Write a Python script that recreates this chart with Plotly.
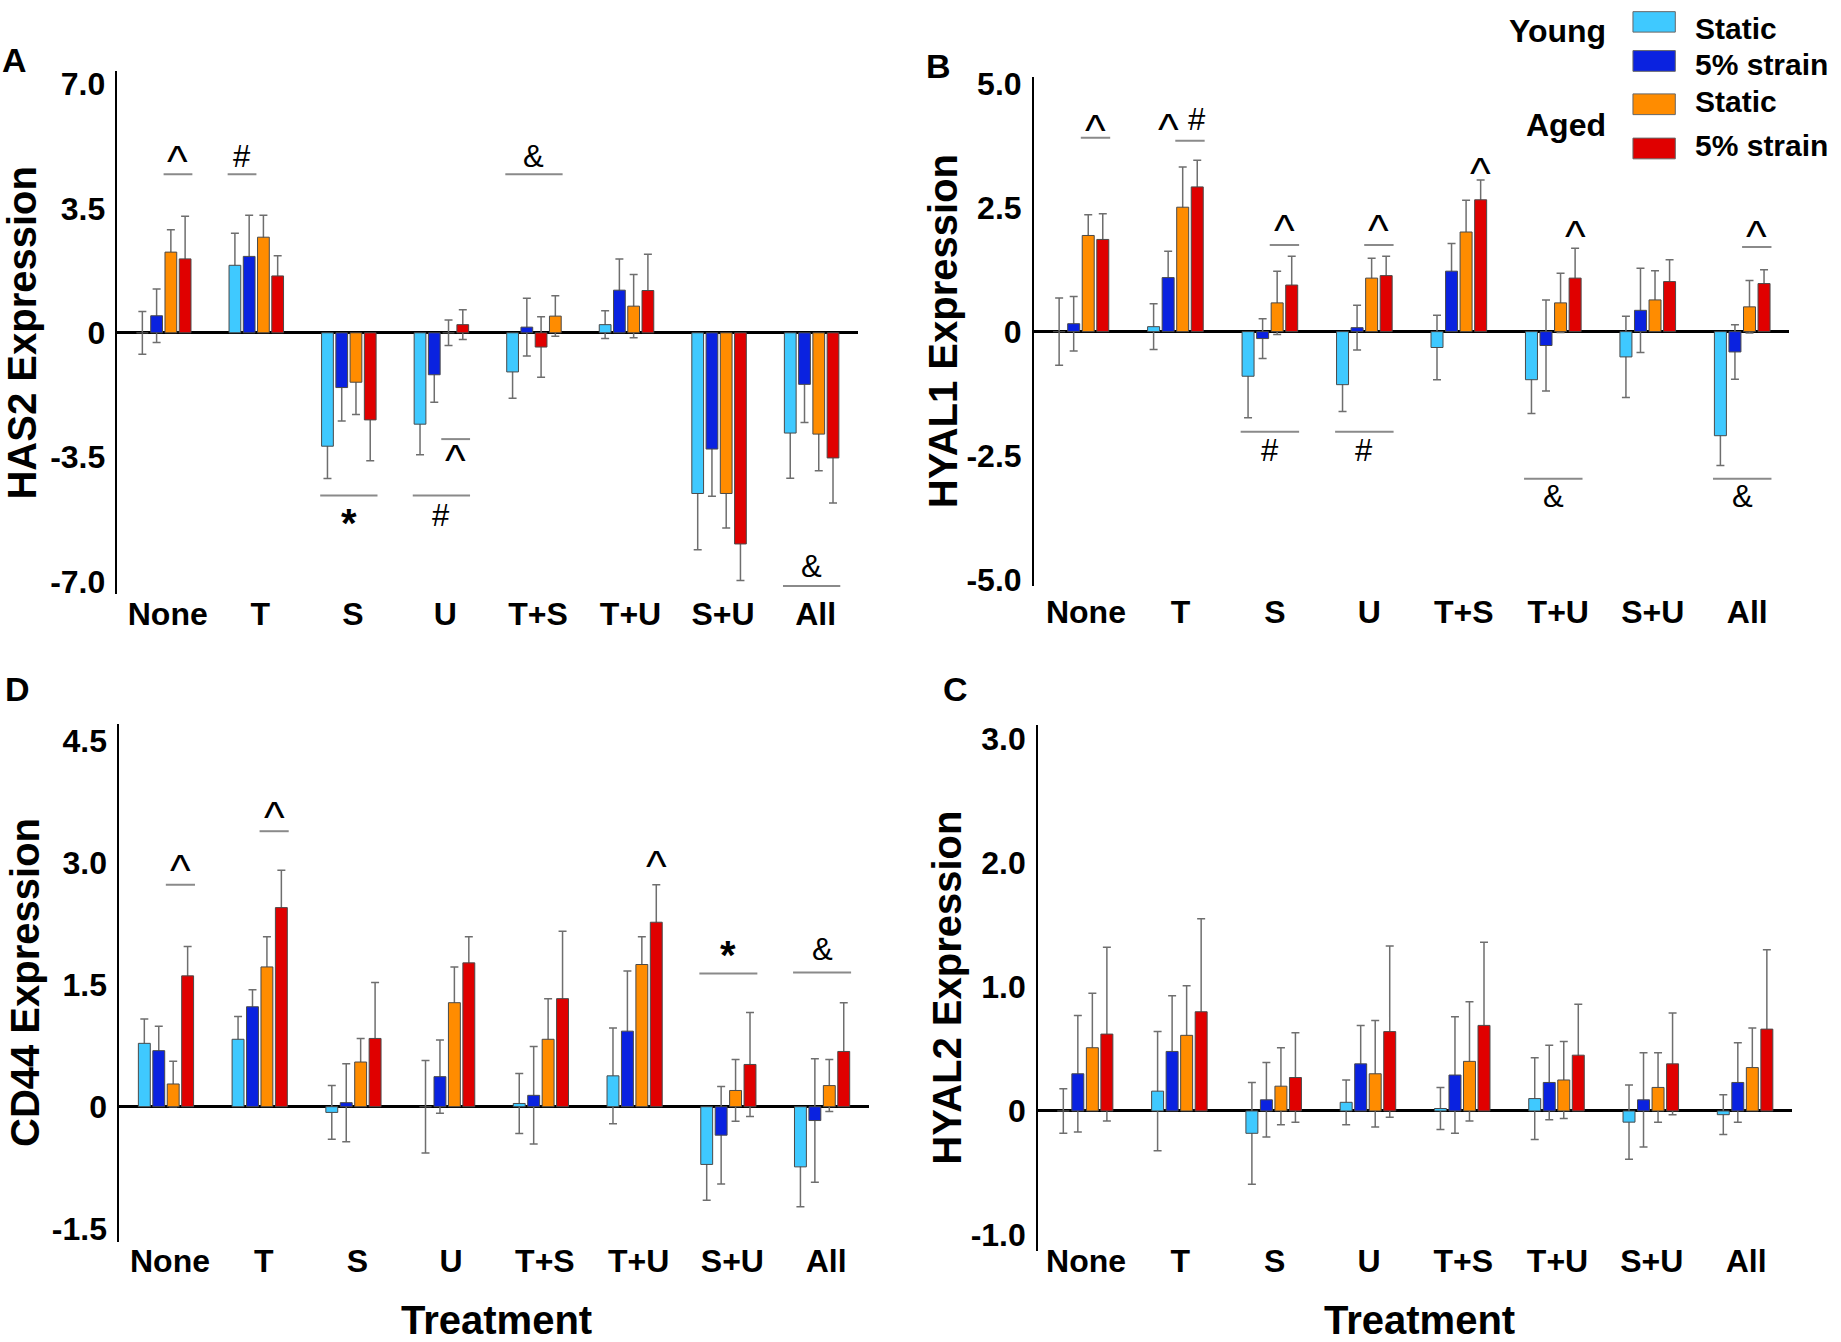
import plotly.graph_objects as go

# ---------------- data ----------------
CATEGORIES = ["None", "T", "S", "U", "T+S", "T+U", "S+U", "All"]
SERIES_NAMES = ["Young Static", "Young 5% strain", "Aged Static", "Aged 5% strain"]
COLORS = ["#3FC9FF", "#0A22E0", "#FF8C00", "#E00000"]

# HAS2 (panel A)
HAS2_YOUNG_STATIC = [0.0, 1.90, -3.19, -2.57, -1.10, 0.23, -4.52, -2.82]
HAS2_YOUNG_STRAIN = [0.48, 2.15, -1.54, -1.18, 0.16, 1.20, -3.27, -1.45]
HAS2_AGED_STATIC = [2.27, 2.69, -1.39, 0.0, 0.47, 0.75, -4.52, -2.85]
HAS2_AGED_STRAIN = [2.08, 1.60, -2.45, 0.23, -0.40, 1.19, -5.94, -3.52]
HAS2_YOUNG_STATIC_ERR = [0.60, 0.90, 0.91, 0.86, 0.74, 0.39, 1.58, 1.27]
HAS2_YOUNG_STRAIN_ERR = [0.75, 1.16, 0.94, 0.77, 0.81, 0.88, 1.33, 1.07]
HAS2_AGED_STATIC_ERR = [0.63, 0.62, 0.91, 0.36, 0.57, 0.89, 0.97, 1.03]
HAS2_AGED_STRAIN_ERR = [1.20, 0.57, 1.15, 0.42, 0.85, 1.02, 1.03, 1.27]
HAS2_SWAPPED = ["T+S"]  # aged bars drawn in swapped order in the original

# HYAL1 (panel B)
HYAL1_YOUNG_STATIC = [0.0, 0.10, -0.90, -1.07, -0.32, -0.97, -0.51, -2.10]
HYAL1_YOUNG_STRAIN = [0.16, 1.09, -0.14, 0.08, 1.22, -0.28, 0.43, -0.41]
HYAL1_AGED_STATIC = [1.94, 2.51, 0.58, 1.08, 2.01, 0.58, 0.64, 0.50]
HYAL1_AGED_STRAIN = [1.86, 2.92, 0.94, 1.13, 2.66, 1.08, 1.01, 0.97]
HYAL1_YOUNG_STATIC_ERR = [0.68, 0.46, 0.84, 0.54, 0.65, 0.68, 0.82, 0.60]
HYAL1_YOUNG_STRAIN_ERR = [0.55, 0.53, 0.40, 0.45, 0.56, 0.92, 0.85, 0.55]
HYAL1_AGED_STATIC_ERR = [0.42, 0.81, 0.64, 0.40, 0.64, 0.60, 0.59, 0.53]
HYAL1_AGED_STRAIN_ERR = [0.52, 0.54, 0.58, 0.39, 0.40, 0.60, 0.44, 0.28]

# CD44 (panel D)
CD44_YOUNG_STATIC = [0.78, 0.83, -0.07, 0.0, 0.04, 0.38, -0.71, -0.74]
CD44_YOUNG_STRAIN = [0.69, 1.23, 0.05, 0.37, 0.14, 0.93, -0.35, -0.17]
CD44_AGED_STATIC = [0.28, 1.72, 0.55, 1.28, 0.83, 1.75, 0.20, 0.26]
CD44_AGED_STRAIN = [1.61, 2.45, 0.84, 1.77, 1.33, 2.27, 0.52, 0.68]
CD44_YOUNG_STATIC_ERR = [0.30, 0.28, 0.33, 0.57, 0.37, 0.59, 0.44, 0.49]
CD44_YOUNG_STRAIN_ERR = [0.30, 0.21, 0.48, 0.45, 0.60, 0.74, 0.60, 0.76]
CD44_AGED_STATIC_ERR = [0.28, 0.37, 0.29, 0.44, 0.50, 0.34, 0.38, 0.32]
CD44_AGED_STRAIN_ERR = [0.36, 0.46, 0.69, 0.32, 0.83, 0.46, 0.64, 0.60]

# HYAL2 (panel C)
HYAL2_YOUNG_STATIC = [0.0, 0.16, -0.18, 0.07, 0.02, 0.10, -0.09, -0.03]
HYAL2_YOUNG_STRAIN = [0.30, 0.48, 0.09, 0.38, 0.29, 0.23, 0.09, 0.23]
HYAL2_AGED_STATIC = [0.51, 0.61, 0.20, 0.30, 0.40, 0.25, 0.19, 0.35]
HYAL2_AGED_STRAIN = [0.62, 0.80, 0.27, 0.64, 0.69, 0.45, 0.38, 0.66]
HYAL2_YOUNG_STATIC_ERR = [0.18, 0.48, 0.41, 0.18, 0.17, 0.33, 0.30, 0.16]
HYAL2_YOUNG_STRAIN_ERR = [0.47, 0.45, 0.30, 0.31, 0.47, 0.30, 0.38, 0.32]
HYAL2_AGED_STATIC_ERR = [0.44, 0.40, 0.31, 0.43, 0.48, 0.31, 0.28, 0.32]
HYAL2_AGED_STRAIN_ERR = [0.70, 0.75, 0.36, 0.69, 0.67, 0.41, 0.41, 0.64]

# y tick labels
HAS2_TICKS = [-7.0, -3.5, 0, 3.5, 7.0]
HAS2_TICKTEXT = ["-7.0", "-3.5", "0", "3.5", "7.0"]
HYAL1_TICKS = [-5.0, -2.5, 0, 2.5, 5.0]
HYAL1_TICKTEXT = ["-5.0", "-2.5", "0", "2.5", "5.0"]
CD44_TICKS = [-1.5, 0, 1.5, 3.0, 4.5]
CD44_TICKTEXT = ["-1.5", "0", "1.5", "3.0", "4.5"]
HYAL2_TICKS = [-1.0, 0, 1.0, 2.0, 3.0]
HYAL2_TICKTEXT = ["-1.0", "0", "1.0", "2.0", "3.0"]

# significance marks: (category, bar span, line value or None, symbol or None, symbol value)
HAS2_MARKS = [
    ("None", "34", 4.46, "^", 4.95),
    ("T", "12", 4.46, "#", 4.95),
    ("T+S", "all", 4.46, "&", 4.95),
    ("S", "all", -4.58, "*", -5.13),
    ("U", "all", -4.58, "#", -5.13),
    ("U", "34", -2.99, "^", -3.44),
    ("All", "all", -7.12, "&", -6.57),
]
HYAL1_MARKS = [
    ("None", "34", 3.91, "^", 4.15),
    ("T", "34", 3.85, None, None),
    ("T", "2", None, "^", 4.18),
    ("T", "4", None, "#", 4.28),
    ("S", "34", 1.75, "^", 2.15),
    ("S", "all", -2.02, "#", -2.40),
    ("U", "34", 1.75, "^", 2.15),
    ("U", "all", -2.02, "#", -2.40),
    ("T+S", "4", None, "^", 3.30),
    ("T+U", "4", None, "^", 2.03),
    ("T+U", "all", -2.97, "&", -3.33),
    ("All", "34", 1.71, "^", 2.03),
    ("All", "all", -2.97, "&", -3.33),
]
CD44_MARKS = [
    ("None", "34", 2.73, "^", 2.97),
    ("T", "34", 3.39, "^", 3.62),
    ("T+U", "4", None, "^", 3.02),
    ("S+U", "all", 1.64, "*", 1.96),
    ("All", "all", 1.65, "&", 1.94),
]
HYAL2_MARKS = []

# ---------------- styling / layout ----------------
SLOT = 0.154
WIDTH = 0.127
FONT = "Liberation Sans, Arial, sans-serif"
ERR_COLOR = "#6e6e6e"
LINE_GRAY = "#8a8a8a"

panels = [
    dict(ax="", vals=[HAS2_YOUNG_STATIC, HAS2_YOUNG_STRAIN, HAS2_AGED_STATIC, HAS2_AGED_STRAIN],
         errs=[HAS2_YOUNG_STATIC_ERR, HAS2_YOUNG_STRAIN_ERR, HAS2_AGED_STATIC_ERR, HAS2_AGED_STRAIN_ERR],
         swapped=HAS2_SWAPPED, xdom=[0.0638, 0.466], ydom=[0.558, 0.9544], yrange=[-7.36, 7.36],
         ticks=HAS2_TICKS, ticktext=HAS2_TICKTEXT, title="HAS2 Expression", tx=0.0118,
         letter="A", lx=0.0078, ly=0.9632, marks=HAS2_MARKS, xtitle=None, lshift=4, lstand=-2),
    dict(ax="2", vals=[HYAL1_YOUNG_STATIC, HYAL1_YOUNG_STRAIN, HYAL1_AGED_STATIC, HYAL1_AGED_STRAIN],
         errs=[HYAL1_YOUNG_STATIC_ERR, HYAL1_YOUNG_STRAIN_ERR, HYAL1_AGED_STATIC_ERR, HYAL1_AGED_STRAIN_ERR],
         swapped=[], xdom=[0.5615, 0.972], ydom=[0.5641, 0.9501], yrange=[-5.14, 5.14],
         ticks=HYAL1_TICKS, ticktext=HYAL1_TICKTEXT, title="HYAL1 Expression", tx=0.512,
         letter="B", lx=0.510, ly=0.958, marks=HYAL1_MARKS, xtitle=None, lshift=5, lstand=4),
    dict(ax="3", vals=[CD44_YOUNG_STATIC, CD44_YOUNG_STRAIN, CD44_AGED_STATIC, CD44_AGED_STRAIN],
         errs=[CD44_YOUNG_STATIC_ERR, CD44_YOUNG_STRAIN_ERR, CD44_AGED_STATIC_ERR, CD44_AGED_STRAIN_ERR],
         swapped=[], xdom=[0.0647, 0.472], ydom=[0.0677, 0.4599], yrange=[-1.66, 4.71],
         ticks=CD44_TICKS, ticktext=CD44_TICKTEXT, title="CD44 Expression", tx=0.0137,
         letter="D", lx=0.0095, ly=0.4866, marks=CD44_MARKS, xtitle=0.2695, lshift=4, lstand=-3),
    dict(ax="4", vals=[HYAL2_YOUNG_STATIC, HYAL2_YOUNG_STRAIN, HYAL2_AGED_STATIC, HYAL2_AGED_STRAIN],
         errs=[HYAL2_YOUNG_STATIC_ERR, HYAL2_YOUNG_STRAIN_ERR, HYAL2_AGED_STATIC_ERR, HYAL2_AGED_STRAIN_ERR],
         swapped=[], xdom=[0.5638, 0.9735], ydom=[0.0605, 0.4589], yrange=[-1.13, 3.11],
         ticks=HYAL2_TICKS, ticktext=HYAL2_TICKTEXT, title="HYAL2 Expression", tx=0.5147,
         letter="C", lx=0.519, ly=0.4866, marks=HYAL2_MARKS, xtitle=0.771, lshift=1, lstand=-12),
]


def slot_left(i):
    return (i - 2) * SLOT + (SLOT - WIDTH) / 2


fig = go.Figure()
annotations = []
shapes = []
xs = list(range(len(CATEGORIES)))
SPANS = {"12": (0, 1), "34": (2, 3), "all": (0, 3), "4": (3, 3), "2": (1, 1)}

for p in panels:
    xa, ya = "x" + p["ax"], "y" + p["ax"]
    for i in range(4):
        offsets = []
        for cat in CATEGORIES:
            slot = i
            if cat in p["swapped"] and i in (2, 3):
                slot = 5 - i
            offsets.append(slot_left(slot))
        # error bars first, so the coloured bars hide their inner half
        fig.add_trace(go.Bar(
            x=xs, y=p["vals"][i], offset=offsets, width=WIDTH, xaxis=xa, yaxis=ya,
            marker=dict(color="rgba(0,0,0,0)", line=dict(width=0)),
            error_y=dict(type="data", array=p["errs"][i], symmetric=True,
                         color=ERR_COLOR, thickness=1.5, width=4),
            showlegend=False, hoverinfo="skip"))
        fig.add_trace(go.Bar(
            x=xs, y=p["vals"][i], offset=offsets, width=WIDTH, xaxis=xa, yaxis=ya,
            name=SERIES_NAMES[i],
            marker=dict(color=COLORS[i], line=dict(color="#4a4a4a", width=1)),
            showlegend=False))

    xkey = "xaxis" + p["ax"]
    ykey = "yaxis" + p["ax"]
    fig.layout[xkey] = dict(
        domain=p["xdom"], range=[-0.5, 7.5], anchor=ya,
        tickmode="array", tickvals=xs, ticktext=CATEGORIES,
        showgrid=False, zeroline=False, showline=False,
        ticks="", ticklabelstandoff=p["lstand"], ticklabelshift=p["lshift"],
        tickfont=dict(family=FONT, size=32, color="black", weight="bold"))
    fig.layout[ykey] = dict(
        domain=p["ydom"], range=p["yrange"], anchor=xa,
        tickmode="array", tickvals=p["ticks"], ticktext=p["ticktext"],
        showgrid=False, showline=True, linecolor="black", linewidth=1.5,
        zeroline=True, zerolinecolor="black", zerolinewidth=2.5,
        ticks="outside", ticklen=4, tickcolor="rgba(0,0,0,0)",
        tickfont=dict(family=FONT, size=32, color="black", weight="bold"))

    annotations.append(dict(
        text=p["title"], xref="paper", yref="paper", x=p["tx"],
        y=(p["ydom"][0] + p["ydom"][1]) / 2, textangle=-90, showarrow=False,
        xanchor="center", yanchor="middle",
        font=dict(family=FONT, size=40, color="black", weight="bold")))
    annotations.append(dict(
        text=p["letter"], xref="paper", yref="paper", x=p["lx"], y=p["ly"],
        showarrow=False, xanchor="center", yanchor="middle",
        font=dict(family=FONT, size=34, color="black", weight="bold")))
    if p["xtitle"] is not None:
        annotations.append(dict(
            text="Treatment", xref="paper", yref="paper", x=p["xtitle"], y=0.0085,
            showarrow=False, xanchor="center", yanchor="middle",
            font=dict(family=FONT, size=40, color="black", weight="bold")))

    for cat, span, line_y, sym, sym_y in p["marks"]:
        c = CATEGORIES.index(cat)
        a, b = SPANS[span]
        x0 = c + slot_left(a) - 0.015
        x1 = c + slot_left(b) + WIDTH + 0.015
        if line_y is not None:
            shapes.append(dict(type="line", xref=xa, yref=ya, x0=x0, x1=x1,
                               y0=line_y, y1=line_y,
                               line=dict(color=LINE_GRAY, width=2)))
        if sym is None:
            continue
        if sym == "^":
            fs, ysh = 44, -5
        elif sym == "*":
            fs, ysh = 40, -8
        else:
            fs, ysh = 31, 0
        annotations.append(dict(
            text=sym, xref=xa, yref=ya, x=(x0 + x1) / 2, y=sym_y, showarrow=False,
            xanchor="center", yanchor="middle", yshift=ysh,
            font=dict(family=FONT, size=fs, color="black",
                      weight="bold" if sym == "*" else "normal")))

# ---------------- legend (drawn manually) ----------------
LEGEND_BOXES = [(0.9995, 0.9840), (0.9700, 0.9543), (0.9372, 0.9215), (0.9037, 0.8880)]
LEGEND_TEXT_Y = [0.9868, 0.9598, 0.9313, 0.8978]
LEGEND_LABELS = ["Static", "5% strain", "Static", "5% strain"]
for (top, bot), ty, col, lab in zip(LEGEND_BOXES, LEGEND_TEXT_Y, COLORS, LEGEND_LABELS):
    shapes.append(dict(type="rect", xref="paper", yref="paper", x0=0.887, x1=0.910,
                       y0=bot, y1=top, fillcolor=col, line=dict(color="#666666", width=1)))
    annotations.append(dict(text=lab, xref="paper", yref="paper", x=0.9195,
                            y=ty, showarrow=False, xanchor="left", yanchor="middle",
                            font=dict(family=FONT, size=30, color="black", weight="bold")))
for lab, yy in [("Young", 0.9845), ("Aged", 0.9135)]:
    annotations.append(dict(text=lab, xref="paper", yref="paper", x=0.8734, y=yy,
                            showarrow=False, xanchor="right", yanchor="middle",
                            font=dict(family=FONT, size=32, color="black", weight="bold")))

fig.update_layout(
    width=1841, height=1342, barmode="overlay",
    margin=dict(l=0, r=0, t=0, b=0),
    paper_bgcolor="white", plot_bgcolor="white",
    showlegend=False, annotations=annotations, shapes=shapes,
    font=dict(family=FONT, color="black"),
)

fig.write_html("out.html", config={"displayModeBar": False},
               post_script="document.body.style.margin='0px';")
